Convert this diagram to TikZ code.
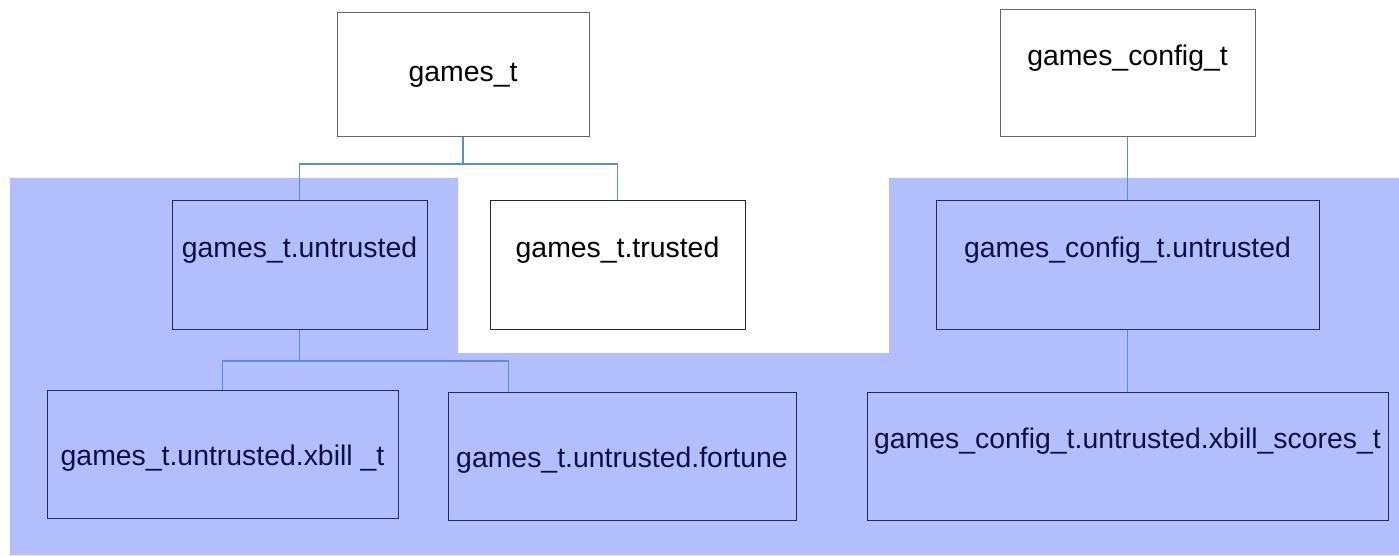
\documentclass[tikz,border=0pt]{standalone}
\usepackage{fontspec}
\setmainfont{Liberation Sans}
\definecolor{zoneblue}{HTML}{B3BFFC}
\definecolor{linkblue}{HTML}{5B8CDB}
\definecolor{inkblue}{HTML}{0D1045}
\definecolor{edgeblue}{HTML}{232A5E}
\begin{document}
\begin{tikzpicture}[x=0.5pt,y=-0.5pt,font=\fontsize{14.2}{17}\selectfont]
  \tikzstyle{box}=[rectangle,draw=black!60,fill=white,inner sep=0pt,line width=0.5pt,minimum height=64pt]
  \tikzstyle{inzone}=[box,draw=edgeblue,fill=zoneblue,text=inkblue]
  \tikzstyle{raised}=[text height=10.5pt,text depth=18pt]
  \tikzstyle{lowered}=[text height=14.5pt,text depth=3pt]
  \tikzstyle{link}=[draw=linkblue,line width=0.6pt]
  \useasboundingbox (0,0) rectangle (1399,556);
  \fill[zoneblue] (10,178) -- (458,178) -- (458,353) -- (889,353) -- (889,178)
    -- (1399,178) -- (1399,555) -- (10,555) -- cycle;
  \node[box,minimum width=126pt,minimum height=62pt] (games) at (463,75) {games\_t};
  \node[box,raised,minimum width=127.5pt,minimum height=63.5pt] (gconf) at (1127.5,73.5) {games\_config\_t};
  \node[inzone,raised,minimum width=127.5pt] (untrusted) at (299.5,265) {games\_t.untrusted};
  \node[box,raised,draw=black!85,minimum width=127.5pt] (trusted) at (617.5,265) {games\_t.trusted};
  \node[inzone,raised,minimum width=191.5pt] (cuntrusted) at (1127.5,265) {games\_config\_t.untrusted};
  \node[inzone,lowered,minimum width=175.5pt] (xbill) at (222.5,454) {games\_t.untrusted.xbill \_t};
  \node[inzone,lowered,minimum width=174pt] (fortune) at (622,456) {games\_t.untrusted.fortune};
  \node[inzone,raised,minimum width=260.5pt] (scores) at (1127.5,456) {games\_config\_t.untrusted.xbill\_scores\_t};
  \coordinate (gsplit) at (463,164);
  \coordinate (usplit) at (299.5,361);
  \draw[link] (games.south) -- (gsplit);
  \draw[link] (untrusted.north) |- (gsplit) -| (trusted.north);
  \draw[link] (untrusted.south) -- (usplit);
  \draw[link] (xbill.north) |- (usplit) -| ([xshift=30.5pt]fortune.north west);
  \draw[link] (gconf.south) -- (cuntrusted.north);
  \draw[link] (cuntrusted.south) -- (scores.north);
\end{tikzpicture}
\end{document}
